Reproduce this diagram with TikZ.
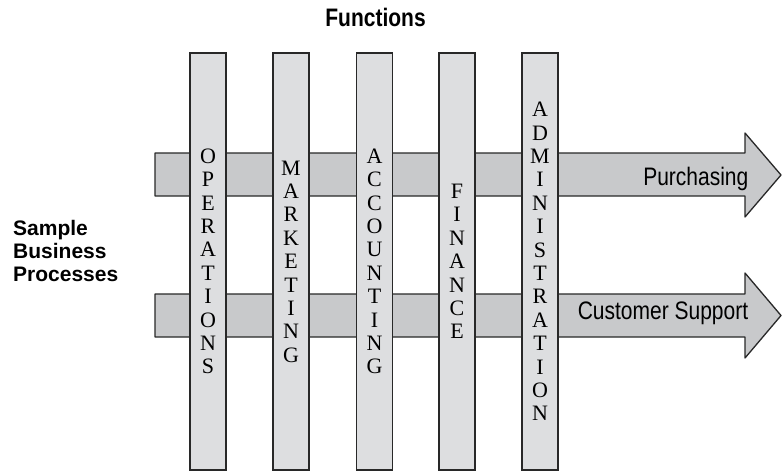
\documentclass[tikz,border=0pt]{standalone}
\usepackage{fontspec}
\setmainfont{Liberation Serif}
\newfontfamily\labelsans[FakeStretch=0.83]{Liberation Sans}
\newfontfamily\headsans{Liberation Sans}
\definecolor{barfill}{RGB}{221,222,224}
\definecolor{flowfill}{RGB}{200,201,203}
\definecolor{edge}{RGB}{40,40,40}
\begin{document}
\begin{tikzpicture}[x=1pt,y=-1pt,
  funcbar/.style={draw=edge, line width=1.3pt, fill=barfill,
    minimum width=36pt, minimum height=417pt, inner sep=0pt,
    align=center, font=\fontsize{22}{23.4}\selectfont},
  flow/.style={draw=edge, line width=1.3pt, fill=flowfill, line join=round},
  flowlabel/.style={inner sep=0pt, anchor=base, font=\labelsans\fontsize{25.3}{28}\selectfont},
  heading/.style={inner sep=0pt, font=\headsans\bfseries\fontsize{21}{23}\selectfont}]
\useasboundingbox (0,0) rectangle (783,472);

% process arrows (drawn first, functions cross over them)
\draw[flow] (155,153) -- (745,153) -- (745,133) -- (781,175) -- (745,217)
  -- (745,196) -- (155,196) -- cycle;
\draw[flow] (155,294) -- (745,294) -- (745,273) -- (781,315.5) -- (745,358)
  -- (745,337) -- (155,337) -- cycle;

% function columns
\node[funcbar] (ops) at (208,261.5) {O\\P\\E\\R\\A\\T\\I\\O\\N\\S};
\node[funcbar] (mkt) at (291,261.5) {M\\A\\R\\K\\E\\T\\I\\N\\G};
\node[funcbar] (acc) at (374.5,261.5) {A\\C\\C\\O\\U\\N\\T\\I\\N\\G};
\node[funcbar] (fin) at (457,261.5) {F\\I\\N\\A\\N\\C\\E};
\node[funcbar] (adm) at (540,261.5) {A\\D\\M\\I\\N\\I\\S\\T\\R\\A\\T\\I\\O\\N};

% process labels
\node[flowlabel] (purch) at (695.8,185) {Purchasing};
\node[flowlabel] (cust) at (663,319.3) {Customer Support};

% headings
\node[heading, anchor=base, font=\labelsans\bfseries\fontsize{25.3}{28}\selectfont]
  (functions) at (375.5,26) {Functions};
\node[heading, anchor=west, align=left] (processes) at (13,251)
  {Sample\\Business\\Processes};
\end{tikzpicture}
\end{document}
